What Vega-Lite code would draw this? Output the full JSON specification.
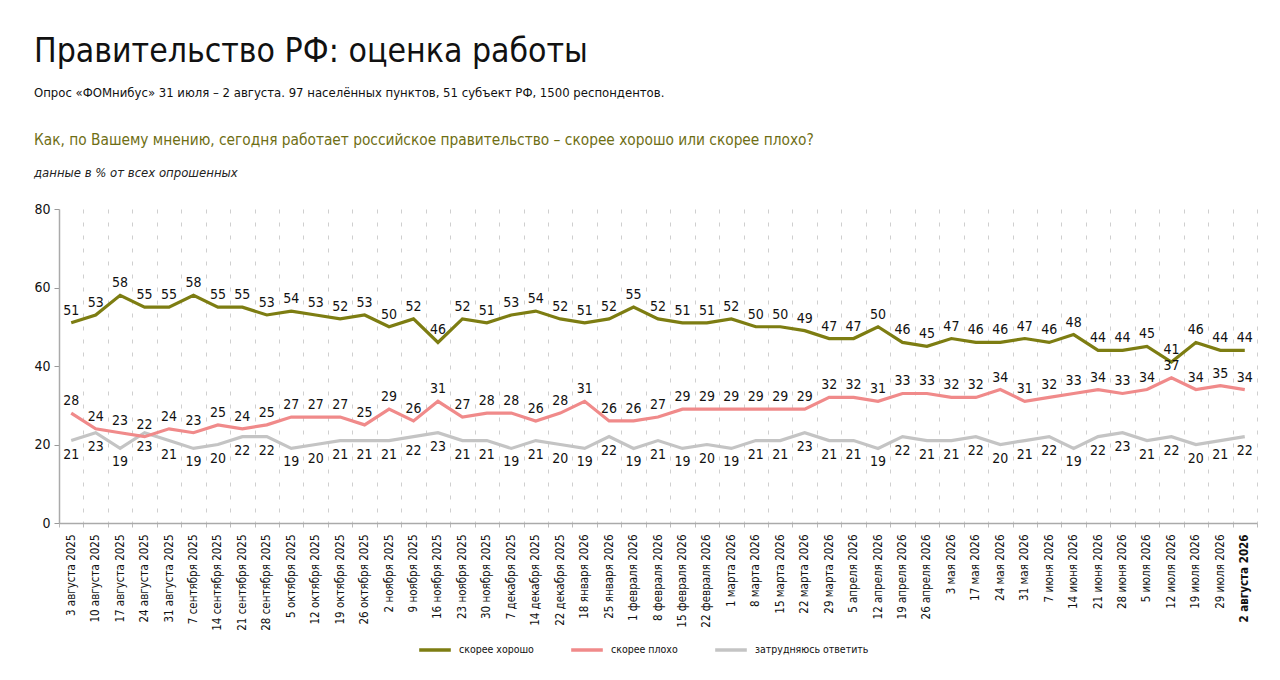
{
  "$schema": "https://vega.github.io/schema/vega-lite/v6.json",
  "description": "Правительство РФ: оценка работы",
  "background": "white",
  "padding": {"left": 33, "top": 35, "right": 20, "bottom": 10},
  "title": {
    "text": "Правительство РФ: оценка работы",
    "subtitle": "Опрос «ФОМнибус» 31 июля – 2 августа. 97 населённых пунктов, 51 субъект РФ, 1500 респондентов.",
    "anchor": "start",
    "frame": "bounds",
    "font": "Liberation Sans Narrow, DejaVu Sans Condensed, sans-serif",
    "fontSize": 33.5,
    "fontWeight": "normal",
    "color": "#111111",
    "subtitleFont": "Liberation Sans Narrow, DejaVu Sans Condensed, sans-serif",
    "subtitleFontSize": 13,
    "subtitleColor": "#111111",
    "subtitlePadding": 17,
    "offset": 32
  },
  "config": {
    "view": {"stroke": null},
    "font": "Liberation Sans Narrow, DejaVu Sans Condensed, sans-serif",
    "concat": {"spacing": 0}
  },
  "vconcat": [
    {
      "title": {
        "text": "Как, по Вашему мнению, сегодня работает российское правительство – скорее хорошо или скорее плохо?",
        "subtitle": "данные в % от всех опрошенных",
        "anchor": "start",
        "frame": "bounds",
        "font": "Liberation Sans Narrow, DejaVu Sans Condensed, sans-serif",
        "fontSize": 15.3,
        "fontWeight": "normal",
        "color": "#6e6e14",
        "subtitleFont": "Liberation Sans Narrow, DejaVu Sans Condensed, sans-serif",
        "subtitleFontSize": 13,
        "subtitleFontStyle": "italic",
        "subtitleColor": "#222222",
        "subtitlePadding": 19,
        "offset": 22
      },
      "width": 1198,
      "height": 314,
      "data": {
        "values": [
          {"date": "3 августа 2025", "скорее хорошо": 51, "скорее плохо": 28, "затрудняюсь ответить": 21},
          {"date": "10 августа 2025", "скорее хорошо": 53, "скорее плохо": 24, "затрудняюсь ответить": 23},
          {"date": "17 августа 2025", "скорее хорошо": 58, "скорее плохо": 23, "затрудняюсь ответить": 19},
          {"date": "24 августа 2025", "скорее хорошо": 55, "скорее плохо": 22, "затрудняюсь ответить": 23},
          {"date": "31 августа 2025", "скорее хорошо": 55, "скорее плохо": 24, "затрудняюсь ответить": 21},
          {"date": "7 сентября 2025", "скорее хорошо": 58, "скорее плохо": 23, "затрудняюсь ответить": 19},
          {"date": "14 сентября 2025", "скорее хорошо": 55, "скорее плохо": 25, "затрудняюсь ответить": 20},
          {"date": "21 сентября 2025", "скорее хорошо": 55, "скорее плохо": 24, "затрудняюсь ответить": 22},
          {"date": "28 сентября 2025", "скорее хорошо": 53, "скорее плохо": 25, "затрудняюсь ответить": 22},
          {"date": "5 октября 2025", "скорее хорошо": 54, "скорее плохо": 27, "затрудняюсь ответить": 19},
          {"date": "12 октября 2025", "скорее хорошо": 53, "скорее плохо": 27, "затрудняюсь ответить": 20},
          {"date": "19 октября 2025", "скорее хорошо": 52, "скорее плохо": 27, "затрудняюсь ответить": 21},
          {"date": "26 октября 2025", "скорее хорошо": 53, "скорее плохо": 25, "затрудняюсь ответить": 21},
          {"date": "2 ноября 2025", "скорее хорошо": 50, "скорее плохо": 29, "затрудняюсь ответить": 21},
          {"date": "9 ноября 2025", "скорее хорошо": 52, "скорее плохо": 26, "затрудняюсь ответить": 22},
          {"date": "16 ноября 2025", "скорее хорошо": 46, "скорее плохо": 31, "затрудняюсь ответить": 23},
          {"date": "23 ноября 2025", "скорее хорошо": 52, "скорее плохо": 27, "затрудняюсь ответить": 21},
          {"date": "30 ноября 2025", "скорее хорошо": 51, "скорее плохо": 28, "затрудняюсь ответить": 21},
          {"date": "7 декабря 2025", "скорее хорошо": 53, "скорее плохо": 28, "затрудняюсь ответить": 19},
          {"date": "14 декабря 2025", "скорее хорошо": 54, "скорее плохо": 26, "затрудняюсь ответить": 21},
          {"date": "22 декабря 2025", "скорее хорошо": 52, "скорее плохо": 28, "затрудняюсь ответить": 20},
          {"date": "18 января 2026", "скорее хорошо": 51, "скорее плохо": 31, "затрудняюсь ответить": 19},
          {"date": "25 января 2026", "скорее хорошо": 52, "скорее плохо": 26, "затрудняюсь ответить": 22},
          {"date": "1 февраля 2026", "скорее хорошо": 55, "скорее плохо": 26, "затрудняюсь ответить": 19},
          {"date": "8 февраля 2026", "скорее хорошо": 52, "скорее плохо": 27, "затрудняюсь ответить": 21},
          {"date": "15 февраля 2026", "скорее хорошо": 51, "скорее плохо": 29, "затрудняюсь ответить": 19},
          {"date": "22 февраля 2026", "скорее хорошо": 51, "скорее плохо": 29, "затрудняюсь ответить": 20},
          {"date": "1 марта 2026", "скорее хорошо": 52, "скорее плохо": 29, "затрудняюсь ответить": 19},
          {"date": "8 марта 2026", "скорее хорошо": 50, "скорее плохо": 29, "затрудняюсь ответить": 21},
          {"date": "15 марта 2026", "скорее хорошо": 50, "скорее плохо": 29, "затрудняюсь ответить": 21},
          {"date": "22 марта 2026", "скорее хорошо": 49, "скорее плохо": 29, "затрудняюсь ответить": 23},
          {"date": "29 марта 2026", "скорее хорошо": 47, "скорее плохо": 32, "затрудняюсь ответить": 21},
          {"date": "5 апреля 2026", "скорее хорошо": 47, "скорее плохо": 32, "затрудняюсь ответить": 21},
          {"date": "12 апреля 2026", "скорее хорошо": 50, "скорее плохо": 31, "затрудняюсь ответить": 19},
          {"date": "19 апреля 2026", "скорее хорошо": 46, "скорее плохо": 33, "затрудняюсь ответить": 22},
          {"date": "26 апреля 2026", "скорее хорошо": 45, "скорее плохо": 33, "затрудняюсь ответить": 21},
          {"date": "3 мая 2026", "скорее хорошо": 47, "скорее плохо": 32, "затрудняюсь ответить": 21},
          {"date": "17 мая 2026", "скорее хорошо": 46, "скорее плохо": 32, "затрудняюсь ответить": 22},
          {"date": "24 мая 2026", "скорее хорошо": 46, "скорее плохо": 34, "затрудняюсь ответить": 20},
          {"date": "31 мая 2026", "скорее хорошо": 47, "скорее плохо": 31, "затрудняюсь ответить": 21},
          {"date": "7 июня 2026", "скорее хорошо": 46, "скорее плохо": 32, "затрудняюсь ответить": 22},
          {"date": "14 июня 2026", "скорее хорошо": 48, "скорее плохо": 33, "затрудняюсь ответить": 19},
          {"date": "21 июня 2026", "скорее хорошо": 44, "скорее плохо": 34, "затрудняюсь ответить": 22},
          {"date": "28 июня 2026", "скорее хорошо": 44, "скорее плохо": 33, "затрудняюсь ответить": 23},
          {"date": "5 июля 2026", "скорее хорошо": 45, "скорее плохо": 34, "затрудняюсь ответить": 21},
          {"date": "12 июля 2026", "скорее хорошо": 41, "скорее плохо": 37, "затрудняюсь ответить": 22},
          {"date": "19 июля 2026", "скорее хорошо": 46, "скорее плохо": 34, "затрудняюсь ответить": 20},
          {"date": "29 июля 2026", "скорее хорошо": 44, "скорее плохо": 35, "затрудняюсь ответить": 21},
          {"date": "2 августа 2026", "скорее хорошо": 44, "скорее плохо": 34, "затрудняюсь ответить": 22}
        ]
      },
      "transform": [
        {"fold": ["затрудняюсь ответить", "скорее плохо", "скорее хорошо"], "as": ["answer", "pct"]}
      ],
      "encoding": {
        "x": {
          "field": "date",
          "type": "nominal",
          "sort": null,
          "scale": {"type": "band", "paddingInner": 0, "paddingOuter": 0},
          "axis": {
            "title": null,
            "labelAngle": 270,
            "labelFontSize": 11.5,
            "labelColor": "#111111",
            "labelPadding": 7,
            "labelFontWeight": {"condition": {"test": "datum.value === '2 августа 2026'", "value": "bold"}, "value": "normal"},
            "tickBand": "extent",
            "tickSize": 4,
            "tickColor": "#bbbbbb",
            "domainColor": "#aaaaaa",
            "domainWidth": 1.5,
            "grid": true,
            "gridDash": [4, 9],
            "gridColor": "#cfcfcf",
            "gridWidth": 1
          }
        },
        "y": {
          "field": "pct",
          "type": "quantitative",
          "scale": {"domain": [0, 80]},
          "axis": {
            "title": null,
            "values": [0, 20, 40, 60, 80],
            "grid": false,
            "labelFontSize": 14,
            "labelColor": "#111111",
            "labelPadding": 4,
            "tickSize": 5,
            "tickColor": "#999999",
            "domainColor": "#aaaaaa",
            "domainWidth": 1.5
          }
        }
      },
      "layer": [
        {
          "mark": {"type": "line", "strokeWidth": 3.2},
          "encoding": {
            "color": {
              "field": "answer",
              "type": "nominal",
              "scale": {
                "domain": ["скорее хорошо", "скорее плохо", "затрудняюсь ответить"],
                "range": ["#7d7d12", "#f08a8a", "#c4c4c4"]
              },
              "legend": {
                "title": null,
                "orient": "none",
                "direction": "horizontal",
                "legendX": 358,
                "legendY": 423,
                "symbolType": "stroke",
                "symbolStrokeWidth": 3.5,
                "symbolSize": 1000,
                "labelFontSize": 10.5,
                "labelColor": "#111111",
                "labelFontWeight": "normal",
                "columnPadding": 30,
                "labelOffset": 6
              }
            }
          }
        },
        {
          "transform": [{"filter": "datum.answer === 'скорее хорошо'"}],
          "mark": {"type": "text", "dy": -12, "fontSize": 14, "color": "#111111"},
          "encoding": {"text": {"field": "pct", "type": "quantitative"}}
        },
        {
          "transform": [{"filter": "datum.answer === 'скорее плохо'"}],
          "mark": {"type": "text", "dy": -12, "fontSize": 14, "color": "#111111"},
          "encoding": {"text": {"field": "pct", "type": "quantitative"}}
        },
        {
          "transform": [{"filter": "datum.answer === 'затрудняюсь ответить'"}],
          "mark": {"type": "text", "dy": 14, "fontSize": 14, "color": "#111111"},
          "encoding": {"text": {"field": "pct", "type": "quantitative"}}
        }
      ]
    }
  ]
}
